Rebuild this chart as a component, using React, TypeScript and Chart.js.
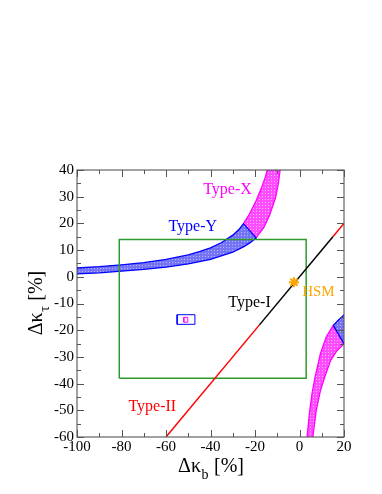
import React, { useEffect, useRef } from 'react';
import { Chart, registerables } from 'chart.js';

Chart.register(...registerables);

// Axis ranges / ticks
const xRange = [-100, 20];
const yRange = [-60, 40];
const xMajorStep = 20;
const xMinorStep = 10;
const yMajorStep = 10;
const yMinorStep = 5;

// Type-Y band (blue), upper and lower boundaries
const typeYUpper: [number, number][] = [
  [-103, 3.15], [-100, 3.3], [-90, 3.8], [-80, 4.5], [-70, 5.3], [-60, 6.5], [-50, 8.2],
  [-45, 9.4], [-40, 10.85], [-35, 12.85], [-30, 15.6], [-27, 17.9], [-25.2, 19.9],
];
const typeYLower: [number, number][] = [
  [-19.5, 14.6], [-22, 12.9], [-25, 11.3], [-30, 9.2], [-40, 6.5], [-50, 4.8],
  [-60, 3.6], [-70, 2.8], [-80, 2.1], [-90, 1.5], [-100, 1.1], [-103, 1.0],
];

// Type-X upper branch (magenta)
const typeXUpperLeft: [number, number][] = [
  [-25.2, 19.9], [-22.5, 23.5], [-19.5, 28.5], [-17, 33.5], [-15.3, 37.5], [-14.5, 40], [-14.2, 42],
];
const typeXUpperRight: [number, number][] = [
  [-8.5, 42], [-8.7, 40], [-9.5, 35], [-10.8, 29.5], [-13.5, 23], [-16, 18.5], [-19.5, 14.6],
];

// Type-X lower branch (magenta)
const typeXLowerLeft: [number, number][] = [
  [3.3, -62], [3.4, -60], [4.6, -50.1], [5.6, -43.8], [7.0, -37.6], [9.4, -28.8], [12.0, -22.6], [15.2, -18.2],
];
const typeXLowerRight: [number, number][] = [
  [20.5, -25.8], [20, -25.1], [16.9, -27.6], [14.0, -31.3], [11.3, -37.6], [9.4, -42.6], [7.5, -50.1], [6.0, -60], [5.9, -62],
];

// Type-Y lower branch piece (blue)
const typeYLowerPiece: [number, number][] = [
  [15.2, -18.2], [17.5, -16.2], [20, -14.3], [20.5, -14.0], [20.5, -25.8], [15.2, -18.2],
];

// Type-I / Type-II line (y = x)
const typeIILow: [number, number][] = [[-60, -60], [-18, -18]];
const typeILine: [number, number][] = [[-18, -18], [15, 15]];
const typeIIHigh: [number, number][] = [[15, 15], [20, 20]];

// Boxes
const greenBox: [number, number][] = [[-81, -38], [3, -38], [3, 14], [-81, 14], [-81, -38]];
const blueBox: [number, number][] = [[-55, -17.8], [-47, -17.8], [-47, -14.2], [-55, -14.2], [-55, -17.8]];
const magentaBox: [number, number][] = [[-52, -17], [-50.2, -17], [-50.2, -15.2], [-52, -15.2], [-52, -17]];

// SM point
const hsmPoint: [number, number][] = [[-2.5, -2]];

// Text annotations (data coordinates of left / middle)
const annLabels = ['Type-X', 'Type-Y', 'Type-I', 'Type-II', 'HSM'];
const annX = [-43.3, -58.9, -32, -76.9, 1.2];
const annY = [32.7, 18.8, -9.6, -48.6, -5.9];
const annColors = ['#ff00ff', '#0000ff', '#000000', '#ff0000', '#ffa500'];

const SERIF = "'Liberation Serif', 'Times New Roman', serif";

const pts = (a: [number, number][]) => a.map(([x, y]) => ({ x, y }));

function makePattern(base: string, dot: string): CanvasPattern | string {
  const c = document.createElement('canvas');
  c.width = 3;
  c.height = 3;
  const g = c.getContext('2d');
  if (!g) return base;
  g.fillStyle = base;
  g.fillRect(0, 0, 3, 3);
  g.fillStyle = dot;
  g.fillRect(1, 1, 1, 1);
  return g.createPattern(c, 'repeat') || base;
}

const framePlugin = {
  id: 'frameTicks',
  afterDatasetsDraw(chart: any) {
    const { ctx, chartArea: a, scales } = chart;
    const xs = scales.x;
    const ys = scales.y;
    ctx.save();
    ctx.strokeStyle = '#444';
    ctx.lineWidth = 1;
    ctx.strokeRect(a.left, a.top, a.right - a.left, a.bottom - a.top);
    ctx.strokeStyle = '#555';
    ctx.beginPath();
    for (let v = xRange[0]; v <= xRange[1]; v += xMinorStep) {
      const major = (v - xRange[0]) % xMajorStep === 0;
      const len = major ? 7 : 4;
      const px = Math.round(xs.getPixelForValue(v)) + 0.5;
      ctx.moveTo(px, a.bottom);
      ctx.lineTo(px, a.bottom - len);
      ctx.moveTo(px, a.top);
      ctx.lineTo(px, a.top + len);
    }
    for (let v = yRange[0]; v <= yRange[1]; v += yMinorStep) {
      const major = (v - yRange[0]) % yMajorStep === 0;
      const len = major ? 7 : 4;
      const py = Math.round(ys.getPixelForValue(v)) + 0.5;
      ctx.moveTo(a.left, py);
      ctx.lineTo(a.left + len, py);
      ctx.moveTo(a.right, py);
      ctx.lineTo(a.right - len, py);
    }
    ctx.stroke();

    // annotations
    ctx.textBaseline = 'middle';
    ctx.textAlign = 'left';
    annLabels.forEach((t, i) => {
      ctx.font = `${t === 'HSM' ? 15 : 16}px ${SERIF}`;
      ctx.fillStyle = annColors[i];
      ctx.fillText(t, xs.getPixelForValue(annX[i]), ys.getPixelForValue(annY[i]));
    });

    // axis titles
    ctx.fillStyle = '#000';
    ctx.textBaseline = 'alphabetic';
    const big = `20px ${SERIF}`;
    const small = `14px ${SERIF}`;
    const drawTitle = (main: string, sub: string, rest: string, cx: number, base: number) => {
      ctx.font = big;
      const w1 = ctx.measureText(main).width;
      const w3 = ctx.measureText(rest).width;
      ctx.font = small;
      const w2 = ctx.measureText(sub).width;
      const total = w1 + w2 + w3;
      let x = cx - total / 2;
      ctx.font = big;
      ctx.fillText(main, x, base);
      x += w1;
      ctx.font = small;
      ctx.fillText(sub, x + 0.5, base + 7);
      x += w2 + 1;
      ctx.font = big;
      ctx.fillText(rest, x, base);
    };
    drawTitle('\u0394\u03ba', 'b', ' [%]', (a.left + a.right) / 2, 472);
    ctx.save();
    ctx.translate(42, (a.top + a.bottom) / 2);
    ctx.rotate(-Math.PI / 2);
    drawTitle('\u0394\u03ba', '\u03c4', ' [%]', 0, 0);
    ctx.restore();
    ctx.restore();
  },
};

export default function App() {
  const ref = useRef<HTMLCanvasElement>(null);
  useEffect(() => {
    if (!ref.current) return;
    const blueFill = makePattern('#7474f4', '#b4b4ff');
    const magFill = makePattern('#ff4cff', '#ffc0ff');
    const lineDs = (data: [number, number][], color: string, width = 1.5) => ({
      data: pts(data),
      showLine: true,
      borderColor: color,
      borderWidth: width,
      pointRadius: 0,
      fill: false,
      tension: 0,
    });
    const bandDs = (data: [number, number][], fillC: any, border: string) => ({
      data: pts(data),
      showLine: true,
      borderColor: border,
      borderWidth: 1.3,
      backgroundColor: fillC,
      pointRadius: 0,
      fill: 'shape',
      tension: 0,
      clip: 0,
    });
    const chart = new Chart(ref.current, {
      type: 'scatter',
      data: {
        datasets: [
          {
            data: pts(hsmPoint),
            pointStyle: 'star',
            pointRadius: 5,
            borderColor: '#ffa500',
            backgroundColor: '#ffa500',
            borderWidth: 2,
            showLine: false,
          } as any,
          lineDs(typeIILow, '#ff0000'),
          lineDs(typeILine, '#000000'),
          lineDs(typeIIHigh, '#ff0000'),
          lineDs(greenBox, '#2e9a2e'),
          lineDs(blueBox, '#0000ff', 1),
          lineDs(magentaBox, '#ff00ff', 1),
          bandDs([...typeYUpper, ...typeYLower, typeYUpper[0]], blueFill, '#0000ff'),
          bandDs(typeYLowerPiece, blueFill, '#0000ff'),
          bandDs([...typeXUpperLeft, ...typeXUpperRight, typeXUpperLeft[0]], magFill, '#ff00ff'),
          bandDs([...typeXLowerLeft, ...typeXLowerRight, typeXLowerLeft[0]], magFill, '#ff00ff'),
        ],
      },
      options: {
        responsive: false,
        animation: false,
        layout: { padding: { top: 170, right: 38, left: 0, bottom: 0 } },
        plugins: { legend: { display: false }, tooltip: { enabled: false } },
        scales: {
          x: {
            type: 'linear',
            min: xRange[0],
            max: xRange[1],
            afterFit: (s: any) => { s.height = 57; },
            grid: { display: false, drawTicks: false, tickLength: 0 },
            border: { display: false },
            ticks: { stepSize: xMajorStep, color: '#000', padding: 1, font: { family: SERIF, size: 15 } },
          },
          y: {
            type: 'linear',
            min: yRange[0],
            max: yRange[1],
            afterFit: (s: any) => { s.width = 77; },
            grid: { display: false, drawTicks: false, tickLength: 0 },
            border: { display: false },
            ticks: { stepSize: yMajorStep, color: '#000', padding: 3, font: { family: SERIF, size: 15 } },
          },
        },
      } as any,
      plugins: [framePlugin],
    });
    return () => chart.destroy();
  }, []);
  return (
    <div style={{ position: 'fixed', left: 0, top: 0, width: 382, height: 494, background: '#fff' }}>
      <canvas ref={ref} width={382} height={494} style={{ width: 382, height: 494 }} />
    </div>
  );
}
